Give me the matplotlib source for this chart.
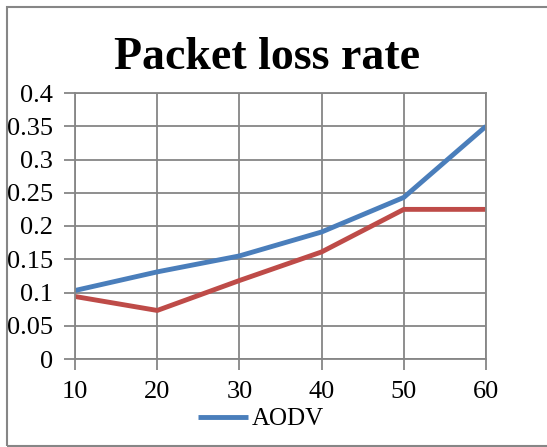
import matplotlib.pyplot as plt
from matplotlib.patches import Rectangle

# node counts and packet loss rate per run
nodes = [10, 20, 30, 40, 50, 60]
aodv_loss = [0.103, 0.131, 0.155, 0.191, 0.243, 0.35]
other_loss = [0.094, 0.073, 0.118, 0.161, 0.225, 0.225]
y_ticks = [0, 0.05, 0.1, 0.15, 0.2, 0.25, 0.3, 0.35, 0.4]
y_tick_labels = ['0', '0.05', '0.1', '0.15', '0.2', '0.25', '0.3', '0.35', '0.4']

GRID = '#868686'
BLUE = '#4A7EBB'
RED = '#BE4B48'

plt.rcParams['font.family'] = ['Liberation Serif', 'DejaVu Serif']

fig = plt.figure(figsize=(5.47, 4.47), dpi=100)

# outer chart border
fig.patches.append(Rectangle((7 / 547, 1 / 447), 560 / 547, 439 / 447,
                             transform=fig.transFigure, fill=False,
                             edgecolor=GRID, linewidth=1.5))

ax = fig.add_axes([75 / 547, 1 - 359 / 447, 411 / 547, 266 / 447])

ax.plot(nodes, other_loss, color=RED, linewidth=3.5, solid_capstyle='butt')
line_aodv, = ax.plot(nodes, aodv_loss, color=BLUE, linewidth=3.5,
                     solid_capstyle='butt', label='AODV')

ax.set_xlim(10, 60)
ax.set_ylim(0, 0.4)
ax.set_xticks(nodes)
ax.set_xticklabels([str(n) for n in nodes])
ax.set_yticks(y_ticks)
ax.set_yticklabels(y_tick_labels)

ax.grid(True, color=GRID, linewidth=1.3)
ax.set_axisbelow(True)
for s in ax.spines.values():
    s.set_color(GRID)
    s.set_linewidth(1.3)
ax.tick_params(axis='both', direction='out', length=8, width=1.3,
               color=GRID, labelsize=19, labelcolor='black')
ax.tick_params(axis='y', pad=8)
ax.tick_params(axis='x', pad=8)

fig.text(267 / 547, 1 - 69 / 447, 'Packet loss rate', ha='center',
         va='baseline', fontsize=33, fontweight='bold')

fig.legend(handles=[line_aodv], loc='center',
           bbox_to_anchor=(261 / 547, 1 - 419 / 447), frameon=False,
           fontsize=18, handlelength=2.0, handletextpad=0.15,
           borderpad=0, borderaxespad=0)

fig.savefig('out.png', dpi=100)
